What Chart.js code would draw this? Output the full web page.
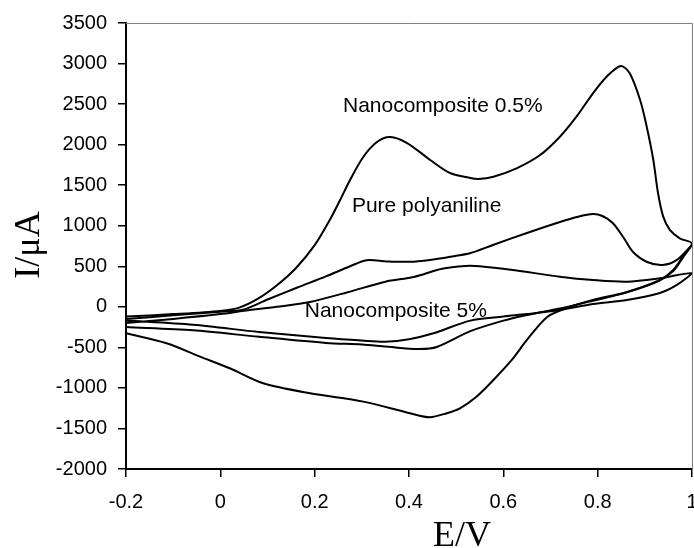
<!DOCTYPE html>
<html>
<head>
<meta charset="utf-8">
<script src="https://cdn.jsdelivr.net/npm/chart.js@4.4.1/dist/chart.umd.min.js"></script>
<style>
  body { margin: 0; background: #fff; }
  #wrap { width: 694px; height: 548px; }
</style>
</head>
<body>
<div id="wrap"><canvas id="cv" width="694" height="548"></canvas></div>
<script>
// Nanocomposite 0.5% loop (anodic sweep then cathodic sweep)
const nc05E = [-0.2, -0.1, 0.0, 0.04, 0.08, 0.12, 0.16, 0.2, 0.232, 0.254, 0.275, 0.303, 0.332, 0.36, 0.396, 0.445, 0.487, 0.53, 0.547, 0.579, 0.628, 0.678, 0.72, 0.755, 0.79, 0.819, 0.849, 0.868, 0.89, 0.904, 0.918, 0.928, 0.939, 0.953, 0.974, 1.0,
               0.98, 0.96, 0.932, 0.862, 0.79, 0.735, 0.693, 0.65, 0.618, 0.579, 0.543, 0.508, 0.48, 0.444, 0.402, 0.303, 0.19, 0.091, 0.02, -0.043, -0.114, -0.2];
const nc05I = [-120, -90, -50, -10, 100, 265, 475, 760, 1071, 1318, 1564, 1848, 2033, 2094, 2020, 1811, 1650, 1589, 1577, 1605, 1708, 1872, 2098, 2345, 2633, 2838, 2970, 2880, 2550, 2221, 1811, 1400, 1112, 948, 845, 780,
               615, 454, 331, 183, 84, -14, -125, -409, -655, -902, -1108, -1251, -1312, -1362, -1312, -1169, -1066, -943, -758, -614, -449, -326];

// Pure polyaniline loop
const paniE = [-0.2, -0.1, 0.0, 0.048, 0.1, 0.162, 0.224, 0.275, 0.31, 0.353, 0.40, 0.444, 0.5, 0.529, 0.578, 0.65, 0.72, 0.756, 0.79, 0.81, 0.832, 0.854, 0.875, 0.905, 0.938, 0.968, 1.0,
               0.98, 0.96, 0.93, 0.86, 0.79, 0.72, 0.65, 0.6, 0.53, 0.459, 0.42, 0.351, 0.3, 0.224, 0.082, -0.058, -0.2];
const paniI = [-150, -105, -60, -35, 90, 235, 375, 500, 575, 560, 555, 578, 630, 660, 763, 911, 1046, 1108, 1145, 1120, 1034, 861, 676, 553, 516, 578, 763,
               600, 440, 320, 175, 75, -20, -100, -170, -300, -495, -520, -490, -465, -445, -370, -290, -250];

// Nanocomposite 5% loop
const nc5E = [-0.2, -0.1, 0.0, 0.05, 0.12, 0.19, 0.27, 0.35, 0.41, 0.47, 0.52, 0.55, 0.62, 0.72, 0.79, 0.862, 0.932, 1.0,
              0.968, 0.932, 0.862, 0.79, 0.72, 0.65, 0.6, 0.53, 0.45, 0.4, 0.35, 0.3, 0.224, 0.082, -0.058, -0.2];
const nc5I = [-200, -150, -90, -50, 0, 60, 180, 310, 368, 470, 504, 500, 454, 372, 331, 310, 352, 414,
              270, 171, 84, 35, -39, -90, -120, -170, -330, -400, -430, -415, -384, -310, -222, -170];

const xTicks = [-0.2, 0, 0.2, 0.4, 0.6, 0.8, 1];
const xTickLabels = ["-0.2", "0", "0.2", "0.4", "0.6", "0.8", "1"];
const yTicks = [-2000, -1500, -1000, -500, 0, 500, 1000, 1500, 2000, 2500, 3000, 3500];
const yTickLabels = ["-2000", "-1500", "-1000", "-500", "0", "500", "1000", "1500", "2000", "2500", "3000", "3500"];

const curveLabels = [
  { text: "Nanocomposite 0.5%", e: 0.26, i: 2477 },
  { text: "Pure polyaniline", e: 0.279, i: 1244 },
  { text: "Nanocomposite 5%", e: 0.179, i: -51 }
];

const toPoints = (es, is) => es.map((e, k) => ({ x: e, y: is[k] }));
const loop = (es, is) => ({
  data: toPoints(es, is),
  showLine: true,
  borderColor: "#000",
  borderWidth: 2,
  pointRadius: 0,
  tension: 0.3,
  fill: false
});

const decor = {
  id: "decor",
  afterDraw(chart) {
    const { ctx, chartArea: a, scales } = chart;
    ctx.save();
    // grey frame on top and right
    ctx.strokeStyle = "#808080";
    ctx.lineWidth = 1;
    ctx.beginPath();
    ctx.moveTo(a.left, a.top + 0.5);
    ctx.lineTo(a.right + 0.5, a.top + 0.5);
    ctx.lineTo(a.right + 0.5, a.bottom);
    ctx.stroke();
    // curve labels
    ctx.fillStyle = "#000";
    ctx.font = "21px 'Liberation Sans', Arial, sans-serif";
    ctx.textAlign = "left";
    ctx.textBaseline = "middle";
    curveLabels.forEach(l => {
      ctx.fillText(l.text, scales.x.getPixelForValue(l.e), scales.y.getPixelForValue(l.i));
    });
    // axis titles
    ctx.font = "36px 'Liberation Serif', 'Times New Roman', serif";
    ctx.textAlign = "center";
    ctx.fillText("E/V", 462, 537);
    ctx.translate(30, 245);
    ctx.rotate(-Math.PI / 2);
    ctx.fillText("I/\u03bcA", 0, 0);
    ctx.restore();
  }
};

new Chart(document.getElementById("cv"), {
  type: "scatter",
  data: {
    datasets: [loop(nc05E, nc05I), loop(paniE, paniI), loop(nc5E, nc5I)]
  },
  options: {
    responsive: false,
    animation: false,
    layout: { padding: { left: 0, right: 2, top: 23, bottom: 0 } },
    plugins: { legend: { display: false }, tooltip: { enabled: false } },
    scales: {
      x: {
        type: "linear",
        min: -0.2,
        max: 1,
        afterBuildTicks: s => { s.ticks = xTicks.map(v => ({ value: v })); },
        afterFit: s => { s.height = 79; s.paddingLeft = 0; s.paddingRight = 0; },
        ticks: {
          color: "#000",
          font: { family: "'Liberation Sans', Arial, sans-serif", size: 20 },
          padding: 13,
          maxRotation: 0,
          callback: (v, k) => xTickLabels[k]
        },
        grid: { drawOnChartArea: false, drawTicks: true, tickLength: 8, color: "#000", lineWidth: 1.5 },
        border: { color: "#000", width: 2 }
      },
      y: {
        type: "linear",
        min: -2000,
        max: 3500,
        afterBuildTicks: s => { s.ticks = yTicks.map(v => ({ value: v })); },
        afterFit: s => { s.width = 126; s.paddingTop = 0; s.paddingBottom = 0; },
        ticks: {
          color: "#000",
          font: { family: "'Liberation Sans', Arial, sans-serif", size: 20 },
          padding: 11,
          callback: (v, k) => yTickLabels[k]
        },
        grid: { drawOnChartArea: false, drawTicks: true, tickLength: 8, color: "#000", lineWidth: 1.5 },
        border: { color: "#000", width: 2 }
      }
    }
  },
  plugins: [decor]
});
</script>
</body>
</html>
